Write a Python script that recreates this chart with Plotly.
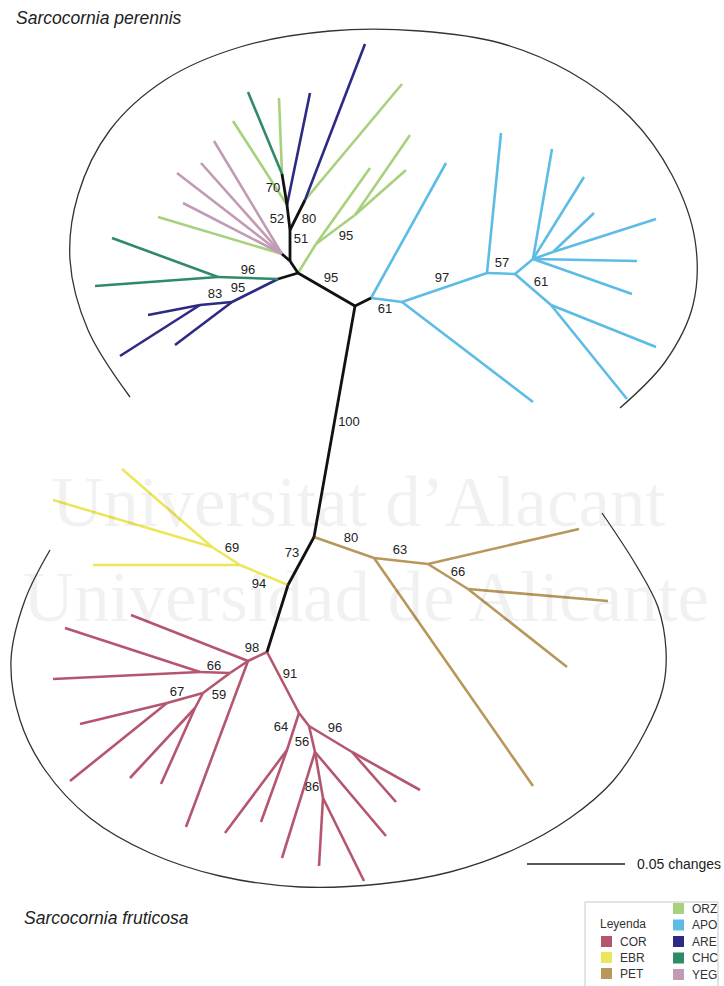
import plotly.graph_objects as go

# ---- population groups and their colours ----
GROUPS = ["COR", "EBR", "PET", "ORZ", "APO", "ARE", "CHC", "YEG"]
GROUP_COLORS = ["#b5566f", "#ece75a", "#b8975c", "#a7d17c", "#5cbce6",
                "#2d2a84", "#2f8a69", "#c19bb6"]
BACKBONE_COLOR = "#111111"

# ---- tree nodes (layout coordinates of the unrooted tree) ----
NODE_IDS = [
    "B", "A", "C", "W", "X", "Y",
    "D", "E", "F", "G", "G2", "H",
    "apo1", "apo2", "apo3", "apo4", "apo5", "apo6", "apo7", "apo8", "apo9", "apo10", "apo11",
    "J", "K", "L", "M", "N", "O", "P", "R", "S", "T", "U", "V",
    "orz1", "are1", "chc1", "orz2", "are2", "orz3",
    "yeg1", "yeg2", "yeg3", "yeg4", "orz4", "orz5", "orz6", "orz7",
    "chc2", "chc3", "are3", "are4", "are5",
    "Z", "Z2", "ebr1", "ebr2", "ebr3",
    "BA", "BB", "BC", "pet1", "pet2", "pet3", "pet4",
    "PA", "PB", "PB2", "PC", "PD", "PE", "QA", "QB", "QC", "QD", "QE", "QF",
    "cor1", "cor2", "cor3", "cor4", "cor5", "cor6", "cor7", "cor8",
    "cor9", "cor10", "cor11", "cor12", "cor13", "cor14", "cor15", "cor16",
]
NODE_X = [
    355, 298, 371, 314, 288, 267,
    402, 487, 515, 533, 553, 551,
    446, 533, 501, 552, 584, 594, 656, 637, 632, 656, 627,
    290, 282, 290, 287, 305, 282, 316, 355, 278, 218, 232, 200,
    233, 310, 248, 279, 365, 402,
    214, 201, 177, 183, 158, 370, 410, 406,
    112, 95, 175, 148, 120,
    240, 212, 93, 53, 122,
    374, 428, 468, 533, 579, 608, 567,
    248, 230, 200, 203, 167, 195, 299, 287, 309, 352, 315, 323,
    131, 186, 65, 53, 80, 70, 130, 161,
    225, 261, 420, 396, 282, 386, 319, 364,
]
NODE_Y = [
    306, 273, 298, 537, 585, 652,
    302, 273, 274, 259, 252, 305,
    163, 402, 133, 149, 177, 213, 219, 261, 294, 347, 399,
    261, 254, 230, 205, 200, 174, 244, 215, 279, 277, 302, 305,
    121, 93, 92, 98, 44, 84,
    141, 163, 173, 203, 217, 168, 135, 170,
    238, 286, 345, 315, 356,
    565, 547, 565, 500, 469,
    558, 564, 589, 786, 529, 601, 667,
    661, 673, 672, 693, 703, 708, 713, 750, 726, 752, 752, 798,
    615, 827, 628, 679, 724, 781, 778, 784,
    833, 822, 790, 802, 858, 836, 866, 881,
]

# ---- branches: (parent, child, group) ; "" = backbone ----
EDGES = [
    ("B", "A", ""), ("B", "C", ""), ("B", "W", ""), ("A", "J", ""), ("J", "K", ""),
    ("J", "L", ""), ("L", "M", ""), ("L", "N", ""), ("M", "O", ""), ("A", "S", ""),
    ("W", "X", ""), ("X", "Y", ""),
    # APO
    ("C", "apo1", "APO"), ("C", "D", "APO"), ("D", "apo2", "APO"), ("D", "E", "APO"),
    ("E", "apo3", "APO"), ("E", "F", "APO"), ("F", "G", "APO"), ("F", "H", "APO"),
    ("G", "apo4", "APO"), ("G", "apo5", "APO"), ("G", "G2", "APO"), ("G2", "apo6", "APO"),
    ("G2", "apo7", "APO"), ("G", "apo8", "APO"), ("G", "apo9", "APO"),
    ("H", "apo10", "APO"), ("H", "apo11", "APO"),
    # upper-left populations
    ("M", "orz1", "ORZ"), ("M", "are1", "ARE"), ("O", "chc1", "CHC"), ("O", "orz2", "ORZ"),
    ("N", "are2", "ARE"), ("N", "orz3", "ORZ"),
    ("K", "yeg1", "YEG"), ("K", "yeg2", "YEG"), ("K", "yeg3", "YEG"), ("K", "yeg4", "YEG"),
    ("K", "orz4", "ORZ"),
    ("A", "P", "ORZ"), ("P", "orz5", "ORZ"), ("P", "R", "ORZ"), ("R", "orz6", "ORZ"),
    ("R", "orz7", "ORZ"),
    ("S", "T", "CHC"), ("T", "chc2", "CHC"), ("T", "chc3", "CHC"),
    ("S", "U", "ARE"), ("U", "are3", "ARE"), ("U", "V", "ARE"), ("V", "are4", "ARE"),
    ("V", "are5", "ARE"),
    # EBR
    ("X", "Z", "EBR"), ("Z", "ebr1", "EBR"), ("Z", "Z2", "EBR"), ("Z2", "ebr2", "EBR"),
    ("Z2", "ebr3", "EBR"),
    # PET
    ("W", "BA", "PET"), ("BA", "pet1", "PET"), ("BA", "BB", "PET"), ("BB", "pet2", "PET"),
    ("BB", "BC", "PET"), ("BC", "pet3", "PET"), ("BC", "pet4", "PET"),
    # COR
    ("Y", "PA", "COR"), ("PA", "cor1", "COR"), ("PA", "cor2", "COR"), ("PA", "PB", "COR"),
    ("PB", "PB2", "COR"), ("PB2", "cor3", "COR"), ("PB2", "cor4", "COR"), ("PB", "PC", "COR"),
    ("PC", "PD", "COR"), ("PD", "cor5", "COR"), ("PD", "cor6", "COR"), ("PC", "PE", "COR"),
    ("PE", "cor7", "COR"), ("PE", "cor8", "COR"),
    ("Y", "QA", "COR"), ("QA", "QB", "COR"), ("QB", "cor9", "COR"), ("QB", "cor10", "COR"),
    ("QA", "QC", "COR"), ("QC", "QD", "COR"), ("QD", "cor11", "COR"), ("QD", "cor12", "COR"),
    ("QC", "QE", "COR"), ("QE", "cor13", "COR"), ("QE", "cor14", "COR"), ("QE", "QF", "COR"),
    ("QF", "cor15", "COR"), ("QF", "cor16", "COR"),
]

# ---- bootstrap support values ----
BOOT_TEXT = ["70", "52", "80", "51", "95", "96", "95", "83", "95", "61", "97", "57", "61",
             "100", "69", "73", "94", "80", "63", "66",
             "98", "66", "67", "59", "91", "64", "56", "96", "86"]
BOOT_X = [273, 277, 309, 301, 346, 248, 238, 215, 331, 385, 442, 502, 541,
          349, 232, 292, 259, 351, 400, 458,
          252, 214, 177, 219, 290, 281, 302, 335, 312]
BOOT_Y = [189, 220, 220, 240, 237, 271, 289, 295, 279, 310, 279, 264, 283,
          423, 549, 554, 585, 539, 551, 573,
          649, 667, 693, 696, 675, 728, 743, 729, 788]

# ---- enclosing arcs around the two species ----
ARC_TOP_X = [130, 88, 70, 78, 110, 165, 240, 330, 420, 500, 570, 630, 672, 695, 693,
             665, 620]
ARC_TOP_Y = [397, 330, 260, 195, 130, 80, 47, 31, 31, 43, 72, 117, 175, 240, 305,
             362, 408]
ARC_BOT_X = [50, 25, 11, 20, 45, 90, 150, 220, 300, 380, 450, 515, 570, 613, 645,
             663, 666, 658, 636, 602]
ARC_BOT_Y = [550, 600, 660, 720, 770, 818, 853, 876, 887, 884, 872, 849, 818, 781, 732,
             688, 650, 607, 565, 513]

# ---- legend layout (columns of the key box) ----
LEGEND_LEFT = ["COR", "EBR", "PET"]
LEGEND_RIGHT = ["ORZ", "APO", "ARE", "CHC", "YEG"]

FONT = "Liberation Sans, Arial, sans-serif"
pos = {n: (x, y) for n, x, y in zip(NODE_IDS, NODE_X, NODE_Y)}
color_of = dict(zip(GROUPS, GROUP_COLORS))

fig = go.Figure()

# watermark of the source institution
for wtext, wx, wy in [("Universitat d\u2019Alacant", 358, 502),
                      ("Universidad de Alicante", 366, 597)]:
    fig.add_annotation(x=wx, y=wy, text=wtext, showarrow=False,
                       font=dict(family="Liberation Serif, Times New Roman, serif", size=71,
                                 color="rgba(0,0,0,0.055)"),
                       xanchor="center", yanchor="middle")

# arcs
for ax, ay in [(ARC_TOP_X, ARC_TOP_Y), (ARC_BOT_X, ARC_BOT_Y)]:
    fig.add_trace(go.Scatter(x=ax, y=ay, mode="lines",
                             line=dict(color="#333333", width=1.3, shape="spline",
                                       smoothing=1.0),
                             hoverinfo="skip", showlegend=False))

# branches, one trace per group (backbone drawn last)
for grp in GROUPS + [""]:
    xs, ys = [], []
    for p, c, g in EDGES:
        if g != grp:
            continue
        xs += [pos[p][0], pos[c][0], None]
        ys += [pos[p][1], pos[c][1], None]
    col = color_of.get(grp, BACKBONE_COLOR)
    fig.add_trace(go.Scatter(x=xs, y=ys, mode="lines",
                             line=dict(color=col, width=2.6 if grp else 2.8),
                             hoverinfo="skip", showlegend=False))

# support values
fig.add_trace(go.Scatter(x=BOOT_X, y=BOOT_Y, text=BOOT_TEXT, mode="text",
                         textfont=dict(family=FONT, size=13, color="#222222"),
                         hoverinfo="skip", showlegend=False))

# species names
fig.add_annotation(x=14, y=18, text="<i>Sarcocornia perennis</i>", showarrow=False,
                   xanchor="left", yanchor="middle",
                   font=dict(family=FONT, size=17.5, color="#222222"))
fig.add_annotation(x=22, y=918, text="<i>Sarcocornia fruticosa</i>", showarrow=False,
                   xanchor="left", yanchor="middle",
                   font=dict(family=FONT, size=17.5, color="#222222"))

# scale bar
fig.add_shape(type="line", x0=527, x1=625, y0=864, y1=864,
              line=dict(color="#222222", width=1.5))
fig.add_annotation(x=635, y=864, text="0.05 changes", showarrow=False,
                   xanchor="left", yanchor="middle",
                   font=dict(family=FONT, size=14, color="#222222"))

# legend key
fig.add_shape(type="rect", x0=585, x1=718, y0=902, y1=992,
              line=dict(color="#c8c8c8", width=1), fillcolor="rgba(0,0,0,0)")
fig.add_annotation(x=598, y=924, text="Leyenda", showarrow=False, xanchor="left",
                   yanchor="middle", font=dict(family=FONT, size=12, color="#333333"))
for names, sx, ys0, dy in [(LEGEND_LEFT, 606.5, 941.5, 16), (LEGEND_RIGHT, 678.5, 908.5, 16.5)]:
    yy = [ys0 + i * dy for i in range(len(names))]
    fig.add_trace(go.Scatter(x=[sx] * len(names), y=yy, mode="markers",
                             marker=dict(symbol="square", size=11,
                                         color=[color_of[n] for n in names],
                                         line=dict(width=0)),
                             hoverinfo="skip", showlegend=False))
    for n, y in zip(names, yy):
        fig.add_annotation(x=sx + 11, y=y, text=n, showarrow=False, xanchor="left",
                           yanchor="middle",
                           font=dict(family=FONT, size=12, color="#333333"))

fig.update_layout(
    width=724, height=986, margin=dict(l=0, r=0, t=0, b=0),
    paper_bgcolor="white", plot_bgcolor="white",
    xaxis=dict(range=[0, 724], visible=False, fixedrange=True),
    yaxis=dict(range=[986, 0], visible=False, fixedrange=True),
)

fig.write_html("out.html")
